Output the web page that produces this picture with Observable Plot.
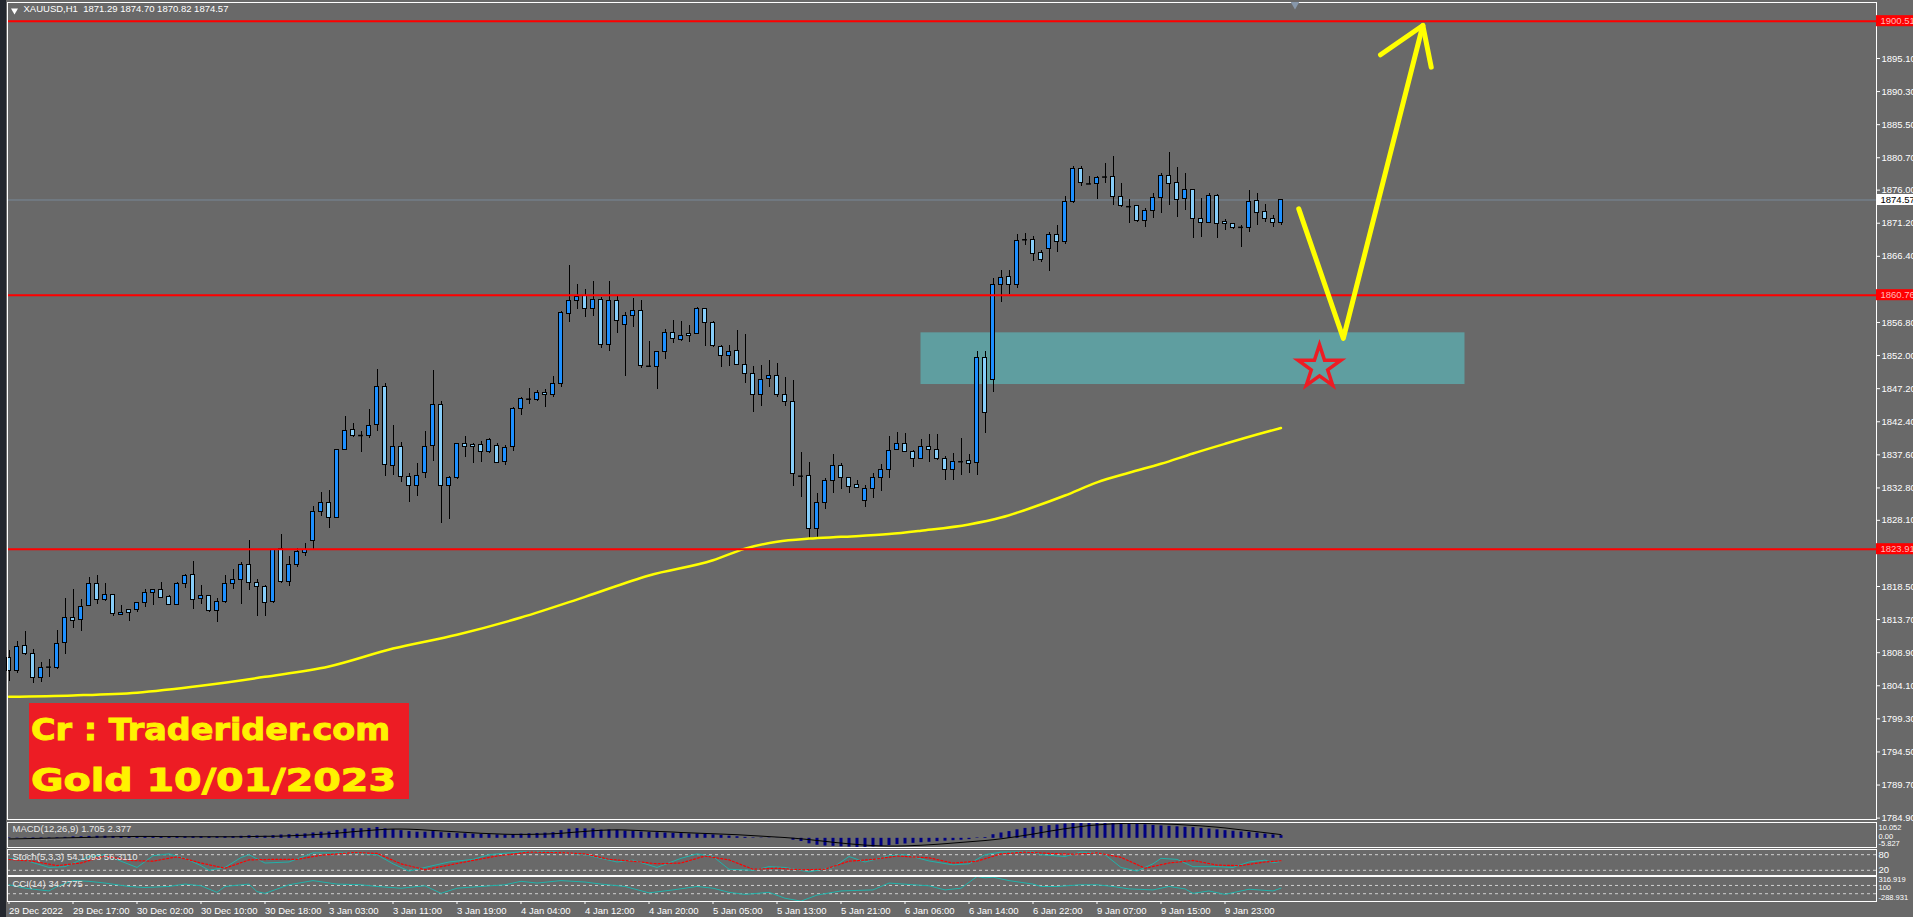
<!DOCTYPE html>
<html><head><meta charset="utf-8">
<script src="https://cdn.jsdelivr.net/npm/d3@7"></script>
<script src="https://cdn.jsdelivr.net/npm/@observablehq/plot@0.6"></script>
<style>
html,body{margin:0;padding:0;background:#696969;overflow:hidden;}
#wrap{position:relative;width:1913px;height:917px;background:#696969;}
#strip{position:absolute;left:0;top:0;width:6px;height:917px;background:#23272e;}
</style></head>
<body><div id="wrap"><div id="strip"></div></div>
<script>
// ---------------- DATA ----------------
const chartTitle = "XAUUSD,H1  1871.29 1874.70 1870.82 1874.57";
const timeTicks = [0,8,16,24,32,40,48,56,64,72,80,88,96,104,112,120,128,136,144,152];
const timeLabels = ["29 Dec 2022","29 Dec 17:00","30 Dec 02:00","30 Dec 10:00","30 Dec 18:00","3 Jan 03:00","3 Jan 11:00","3 Jan 19:00","4 Jan 04:00","4 Jan 12:00","4 Jan 20:00","5 Jan 05:00","5 Jan 13:00","5 Jan 21:00","6 Jan 06:00","6 Jan 14:00","6 Jan 22:00","9 Jan 07:00","9 Jan 15:00","9 Jan 23:00"];
const priceTicks = [1895.10,1890.30,1885.50,1880.70,1876.00,1871.20,1866.40,1856.80,1852.00,1847.20,1842.40,1837.60,1832.80,1828.10,1818.50,1813.70,1808.90,1804.10,1799.30,1794.50,1789.70,1784.90];

const opens = [
1808.19,1806.26,1809.87,1808.70,1805.24,1806.70,1806.67,1810.33,1813.90,1813.64,
1815.68,1818.88,1816.59,1817.20,1814.40,1815.07,1815.07,1816.08,1817.61,1817.97,
1816.95,1815.83,1818.88,1820.16,1816.70,1817.10,1814.97,1816.24,1818.88,1819.44,
1821.58,1819.04,1818.48,1816.24,1823.97,1819.14,1821.58,1823.37,1825.15,1829.32,
1830.59,1828.45,1838.33,1841.18,1840.37,1840.37,1841.94,1847.39,1836.04,1838.74,
1834.41,1833.09,1834.92,1838.89,1844.90,1833.15,1834.26,1839.19,1839.10,1839.05,
1837.99,1838.95,1836.54,1838.71,1844.27,1845.72,1845.58,1846.59,1846.30,1847.90,
1858.05,1859.94,1860.71,1858.78,1860.08,1853.56,1859.94,1856.46,1857.76,1858.49,
1850.41,1850.41,1852.45,1855.30,1854.28,1855.20,1855.15,1858.78,1856.75,1853.27,
1851.96,1852.69,1850.66,1849.35,1846.30,1848.58,1849.06,1846.30,1845.29,1834.55,
1834.50,1826.86,1830.64,1833.87,1836.00,1834.26,1833.25,1830.97,1832.67,1834.26,
1835.42,1838.33,1839.19,1838.04,1837.02,1838.76,1838.33,1837.02,1835.42,1836.50,
1836.68,1836.39,1851.67,1848.48,1862.26,1863.42,1862.26,1868.70,1868.79,1866.90,
1867.48,1869.52,1868.45,1874.25,1879.09,1876.96,1876.91,1877.80,1877.93,1875.03,
1873.70,1873.63,1871.55,1873.00,1874.83,1878.12,1877.06,1874.74,1876.04,1871.84,
1871.26,1875.17,1871.45,1871.11,1870.50,1870.53,1874.45,1872.85,1871.84,1871.29];
const highs = [
1809.21,1810.49,1811.91,1809.31,1807.53,1807.84,1812.11,1816.70,1818.12,1816.59,
1819.75,1820.16,1818.88,1817.35,1815.68,1815.17,1816.19,1818.12,1818.10,1819.14,
1817.20,1819.14,1820.26,1822.19,1818.63,1817.20,1816.70,1820.16,1821.02,1821.94,
1825.15,1819.54,1818.70,1823.90,1826.01,1822.80,1824.08,1824.74,1830.08,1832.12,
1832.48,1838.40,1843.17,1842.15,1841.03,1844.18,1849.93,1847.90,1841.79,1839.40,
1834.92,1836.34,1841.03,1849.78,1845.40,1834.40,1839.30,1840.26,1839.20,1839.53,
1839.90,1839.19,1838.95,1844.51,1845.96,1847.17,1846.93,1847.03,1848.96,1858.44,
1865.07,1862.31,1861.54,1862.75,1860.47,1862.75,1860.62,1858.30,1860.23,1859.99,
1854.04,1852.59,1855.78,1857.09,1856.94,1856.36,1859.02,1858.88,1856.94,1853.46,
1853.41,1855.64,1855.06,1850.41,1850.56,1851.28,1850.90,1848.87,1848.38,1837.94,
1836.49,1832.04,1834.12,1837.60,1836.29,1834.36,1833.88,1833.15,1834.84,1836.20,
1840.26,1840.79,1840.65,1838.23,1839.77,1840.50,1840.50,1837.36,1837.84,1839.92,
1837.65,1852.59,1852.59,1863.13,1864.34,1864.34,1869.52,1869.66,1869.27,1867.24,
1869.90,1870.87,1875.13,1879.48,1879.48,1877.98,1877.98,1879.82,1880.88,1877.01,
1874.60,1873.77,1873.29,1875.56,1878.36,1881.41,1879.33,1878.46,1876.10,1874.74,
1875.56,1875.30,1871.69,1871.20,1870.82,1875.90,1875.56,1873.87,1872.32,1874.70];
const lows = [
1804.73,1805.90,1808.50,1804.38,1804.63,1805.24,1806.51,1808.70,1812.42,1811.91,
1815.60,1815.83,1816.34,1814.15,1814.30,1813.44,1814.66,1815.47,1815.73,1816.70,
1815.68,1815.70,1818.22,1815.17,1815.93,1814.80,1813.29,1816.10,1818.12,1815.93,
1817.87,1814.15,1814.15,1816.10,1818.90,1818.53,1821.28,1822.80,1823.82,1828.71,
1826.88,1828.30,1838.20,1840.16,1837.87,1839.91,1841.03,1834.51,1834.66,1833.65,
1830.75,1831.61,1834.16,1836.70,1827.59,1828.17,1833.97,1837.26,1836.39,1836.54,
1837.75,1836.39,1836.05,1838.13,1843.31,1844.90,1845.38,1844.51,1845.87,1847.42,
1856.85,1858.68,1857.57,1857.72,1853.07,1852.59,1855.25,1849.01,1856.02,1850.08,
1850.20,1847.03,1851.38,1853.70,1854.04,1853.94,1855.06,1853.36,1853.22,1850.32,
1850.46,1850.56,1847.90,1843.79,1844.66,1847.42,1845.96,1844.66,1833.05,1831.36,
1825.51,1825.66,1829.62,1832.04,1832.52,1831.94,1832.67,1830.01,1831.31,1832.33,
1834.10,1838.23,1837.90,1835.71,1836.90,1836.54,1836.78,1833.88,1833.88,1834.60,
1834.84,1834.60,1840.65,1846.69,1859.75,1860.86,1861.68,1867.97,1865.70,1865.55,
1864.24,1867.00,1868.10,1874.11,1876.58,1876.82,1874.64,1876.91,1873.77,1873.53,
1871.21,1871.35,1870.53,1871.84,1872.66,1873.77,1872.08,1873.05,1868.94,1869.18,
1871.10,1869.03,1870.14,1870.24,1867.73,1869.90,1870.87,1871.35,1870.63,1870.82];
const closes = [
1806.26,1809.72,1808.70,1805.24,1806.67,1806.80,1810.23,1813.90,1813.54,1815.47,
1818.88,1816.59,1817.20,1814.56,1814.66,1814.66,1816.08,1817.51,1817.97,1816.85,
1815.83,1818.88,1820.05,1816.59,1817.10,1814.97,1816.24,1818.88,1819.44,1821.58,
1819.04,1818.43,1816.08,1823.82,1819.14,1821.58,1823.57,1823.82,1829.32,1830.59,
1828.45,1838.33,1841.03,1840.37,1840.40,1841.79,1847.39,1836.19,1838.74,1834.41,
1833.09,1834.51,1838.74,1844.84,1833.15,1834.26,1839.19,1838.71,1838.71,1837.99,
1839.77,1836.44,1838.61,1844.27,1845.72,1845.67,1846.59,1846.30,1847.90,1858.20,
1859.94,1860.57,1858.78,1860.08,1853.56,1859.94,1857.04,1857.76,1858.49,1850.51,
1850.45,1852.45,1855.30,1854.43,1854.86,1854.86,1858.78,1856.75,1853.32,1851.96,
1852.54,1850.66,1849.35,1846.30,1848.48,1849.06,1846.30,1845.29,1834.75,1834.50,
1826.86,1830.64,1833.78,1835.91,1834.26,1833.00,1832.81,1832.67,1834.26,1835.42,
1838.13,1839.19,1837.99,1837.02,1838.76,1838.37,1837.02,1835.42,1836.54,1836.60,
1836.29,1851.67,1843.69,1862.26,1863.28,1862.26,1868.65,1868.80,1866.76,1865.89,
1869.52,1868.45,1874.35,1879.09,1877.06,1876.90,1877.78,1877.90,1875.03,1873.77,
1873.60,1871.55,1873.00,1874.83,1878.12,1876.91,1874.59,1876.04,1871.79,1871.26,
1875.17,1871.11,1871.11,1870.53,1870.60,1874.30,1872.71,1871.84,1871.26,1874.57];

// moving average (yellow), read at sample bars
const maBars   = [0,8,16,24,32,40,48,56,64,72,80,88,92,96,100,104,110,114,120,124,128,132,136,140,144,148,152,156,159];
const maValues = [1802.5,1802.7,1803.1,1804.1,1805.4,1806.9,1809.5,1811.5,1814.0,1817.0,1820.1,1822.3,1824.0,1825.0,1825.45,1825.7,1826.1,1826.6,1827.5,1828.5,1830.0,1831.7,1833.6,1835.0,1836.3,1837.8,1839.2,1840.55,1841.5];

// drawn objects
const levelPrices = [1900.51, 1860.76, 1823.91];
const lastPrice = 1874.57;
const zoneBars = [114, 182];
const zonePrices = [1847.8, 1855.3];
const arrowShaft = [[161.22,1873.29],[166.79,1854.48],[176.73,1899.89]];
const arrowHead  = [[171.44,1895.64],[176.73,1899.89],[177.78,1893.84]];
const starPoint = [163.81, 1850.31];
const shiftMarker = [160.75];
const boxLines = ["Cr : Traderider.com", "Gold 10/01/2023"];

// MACD (12,26,9)
const macdTitle = "MACD(12,26,9) 1.705 2.377";
const macdMain = [
0.3,0.2,0.2,0.3,0.3,0.3,0.4,0.6, 0.9,1.0,1.2,1.3,1.3,1.2,1.1,1.1,
1.1,1.1,1.1,1.0,0.9,1.0,1.0,1.0, 1.0,0.9,0.9,1.0,1.1,1.3,1.6,1.5,
1.3,1.7,2.1,2.3,2.6,2.8,3.4,3.9, 4.0,5.0,5.8,6.1,6.1,6.3,6.9,6.0,
5.5,4.9,4.3,3.9,3.9,4.3,3.6,3.2, 3.0,2.9,2.7,2.5,2.4,2.2,2.1,2.4,
2.7,2.9,3.1,3.3,3.6,4.9,5.8,6.2, 6.0,6.0,5.2,5.3,5.0,4.6,4.4,4.0,
3.8,3.6,3.4,3.2,3.0,2.8,2.7,2.5, 2.2,1.8,1.4,1.0,0.6,0.3,0.2,0.2,
0.1,-0.1,-1.2,-2.0,-3.5,-4.4,-4.9,-5.1, -5.4,-5.6,-5.8,-5.8,-5.5,-5.2,-4.6,-4.0,
-3.6,-3.2,-2.8,-2.5,-2.1,-1.8,-1.5,-1.2, -0.8,0.3,0.5,2.3,3.4,4.3,5.4,6.3,
7.0,7.5,8.1,8.5,9.1,9.8,10.0,9.9, 9.9,9.8,9.7,9.5,9.2,9.0,8.6,8.2,
7.9,7.6,7.3,7.0,6.8,6.3,5.9,5.4, 4.9,4.5,4.0,3.8,3.3,2.7,2.2,1.705];
const macdSignal = [
-0.4,-0.3,-0.2,-0.1,0.0,0.1,0.2,0.3, 0.4,0.5,0.6,0.8,0.9,1.0,1.1,1.1,
1.2,1.2,1.2,1.1,1.1,1.1,1.0,1.0, 1.0,1.0,1.0,1.0,1.0,1.0,1.1,1.2,
1.3,1.3,1.4,1.6,1.8,2.0,2.3,2.6, 2.9,3.3,3.7,4.2,4.6,5.0,5.4,5.7,
5.9,5.9,5.8,5.6,5.3,5.0,4.7,4.4, 4.1,3.8,3.5,3.2,3.0,2.8,2.6,2.5,
2.5,2.5,2.6,2.7,2.9,3.2,3.6,4.0, 4.4,4.8,5.1,5.3,5.4,5.3,5.1,4.9,
4.6,4.4,4.2,4.0,3.7,3.5,3.3,3.1, 2.9,2.7,2.5,2.3,2.0,1.7,1.4,1.1,
0.8,0.5,0.1,-0.3,-0.8,-1.4,-1.9,-2.5, -3.0,-3.5,-3.9,-4.3,-4.6,-4.8,-4.9,-4.9,
-4.8,-4.6,-4.4,-4.1,-3.8,-3.4,-3.0,-2.6, -2.2,-1.8,-1.4,-0.9,-0.3,0.4,1.1,1.9,
2.7,3.6,4.5,5.3,6.1,6.8,7.5,8.1, 8.5,8.9,9.2,9.4,9.5,9.5,9.4,9.3,
9.2,9.0,8.8,8.5,8.2,7.9,7.5,7.1, 6.6,6.0,5.4,4.8,4.2,3.6,3.0,2.377];
const macdRange = [-5.827, 10.052];

// Stochastic (5,3,3)
const stochTitle = "Stoch(5,3,3) 54.1093 56.3110";
const stochLevels = [20, 80];
const stochK = [[0,66],[2,59],[5,31],[7,34],[10,73],[12,80],[14,55],[16,31],[18,76],[20,83],[22,66],[24,38],[25,20],[27,31],[29,69],[30,80],[32,48],[35,52],[38,87],[43,87],[46,80],[48,45],[50,17],[52,31],[55,52],[58,62],[60,80],[64,91],[68,91],[72,80],[74,66],[76,52],[78,59],[81,31],[84,66],[86,83],[88,73],[90,24],[93,20],[95,34],[97,31],[100,14],[103,31],[105,73],[107,52],[110,76],[112,80],[115,56],[118,41],[120,45],[122,80],[124,90],[128,91],[129,80],[132,73],[134,90],[136,87],[137,80],[139,31],[141,17],[143,45],[144,66],[146,62],[148,34],[151,34],[153,31],[155,52],[157,59],[158,49],[159,54.11]];
const stochD = [[0,62],[3,55],[6,38],[9,48],[12,75],[15,58],[18,55],[21,72],[24,48],[27,28],[30,60],[33,62],[36,62],[39,78],[43,88],[46,85],[49,45],[52,22],[55,40],[58,58],[61,75],[65,90],[69,88],[72,83],[75,62],[78,55],[81,45],[84,48],[87,75],[90,60],[93,24],[96,28],[99,22],[102,24],[105,55],[108,62],[111,75],[115,68],[118,48],[121,55],[124,83],[127,90],[130,85],[133,82],[136,87],[139,70],[142,28],[145,48],[148,58],[151,40],[154,38],[157,52],[159,56.31]];

// CCI (14)
const cciTitle = "CCI(14) 34.7775";
const cciLevels = [100, -100];
const cciRange = [-288.931, 316.919];
const cci = [[0,117],[2,33],[5,-33],[6,75],[8,217],[10,200],[12,158],[15,75],[17,50],[20,75],[22,133],[24,92],[26,-67],[27,75],[30,133],[31,-50],[32,-92],[35,117],[38,217],[41,133],[44,117],[46,75],[49,33],[52,92],[54,-92],[56,33],[59,75],[62,117],[64,200],[66,158],[69,217],[72,183],[74,133],[77,75],[80,-80],[83,-8],[86,75],[88,33],[90,-67],[92,-117],[95,-67],[97,-210],[99,-280],[101,-133],[104,-33],[108,-8],[110,158],[113,117],[115,92],[117,-8],[119,33],[121,316.9],[122,283],[123,300],[125,217],[128,133],[129,75],[131,75],[134,117],[136,117],[138,75],[140,17],[143,-8],[145,75],[147,17],[148,-92],[150,-33],[152,-117],[155,8],[158,-33],[159,34.78]];

// ---------------- RENDER ----------------
const W = 1913;
const xDomain = [-0.1875, 233.4375];
const labelBoxW = 4.7; // bar units covering the price-label column
const FONT = "'Liberation Sans', Arial, sans-serif";
const wrap = document.getElementById("wrap");
const styleAt = top => `position:absolute;left:0;top:${top}px;background:transparent;overflow:visible;color:#ffffff;font-family:${FONT};font-size:9.5px;max-width:none;`;

const candles = opens.map((o, i) => ({i, o, h: highs[i], l: lows[i], c: closes[i]}));
const bodies = candles.filter(d => Math.abs(d.c - d.o) >= 0.12);
const dojis = candles.filter(d => Math.abs(d.c - d.o) < 0.12);
const maData = maBars.map((b, k) => ({b, p: maValues[k]}));
const arrowData = [
  ...arrowShaft.map(([b, p]) => ({seg: "shaft", b, p})),
  ...arrowHead.map(([b, p]) => ({seg: "head", b, p}))
];
const zone = [{b1: zoneBars[0], b2: zoneBars[1], p1: zonePrices[0], p2: zonePrices[1]}];
const star = [{b: starPoint[0], p: starPoint[1]}];
const rightEdge = () => xDomain[1];
const rightEdge2 = () => xDomain[1] + labelBoxW;

const main = Plot.plot({
  width: W, height: 820,
  marginTop: 2, marginBottom: 1, marginLeft: 7, marginRight: 37,
  style: styleAt(0),
  x: {domain: xDomain, axis: null},
  y: {domain: [1784.70, 1903.22], axis: null},
  marks: [
    Plot.rect(zone, {x1: "b1", x2: "b2", y1: "p1", y2: "p2", fill: "#5f9ea0"}),
    Plot.ruleY([lastPrice], {stroke: "#778899", strokeWidth: 1}),
    Plot.ruleX(candles, {x: "i", y1: "l", y2: "h", stroke: "#000", strokeWidth: 1, shapeRendering: "crispEdges"}),
    Plot.rect(bodies, {
      x1: d => d.i - 0.28, x2: d => d.i + 0.28,
      y1: d => Math.min(d.o, d.c), y2: d => Math.max(d.o, d.c),
      fill: d => d.c > d.o ? "#1e90ff" : "#87cefa",
      stroke: "#000", strokeWidth: 1, shapeRendering: "crispEdges"
    }),
    Plot.ruleY(dojis, {y: "c", x1: d => d.i - 0.3, x2: d => d.i + 0.3, stroke: "#000", strokeWidth: 1.5}),
    Plot.line(maData, {x: "b", y: "p", stroke: "#ffff00", strokeWidth: 2.5, curve: "monotone-x"}),
    Plot.ruleY(levelPrices, {stroke: "#ff0000", strokeWidth: 2}),
    Plot.line(arrowData, {x: "b", y: "p", z: "seg", stroke: "#ffff00", strokeWidth: 5, strokeLinecap: "round", strokeLinejoin: "round"}),
    Plot.dot(star, {x: "b", y: "p", symbol: "star", r: 13.5, stroke: "#ed1c24", strokeWidth: 3.5, fill: "none"}),
    Plot.frame({stroke: "#ffffff", shapeRendering: "crispEdges"}),
    Plot.axisY(priceTicks, {anchor: "right", tickSize: 3, tickPadding: 2, tickFormat: d => d.toFixed(2), fontSize: 9.5}),
    Plot.rect(levelPrices, {x1: rightEdge, x2: rightEdge2, y1: d => d - 0.8, y2: d => d + 0.8, fill: "#ff0000"}),
    Plot.text(levelPrices, {x: rightEdge, y: d => d, dx: 4, text: d => d.toFixed(2), textAnchor: "start", fill: "#ffb8b8", fontSize: 9.5}),
    Plot.rect([lastPrice], {x1: rightEdge, x2: rightEdge2, y1: d => d - 0.8, y2: d => d + 0.8, fill: "#ffffff"}),
    Plot.text([lastPrice], {x: rightEdge, y: d => d, dx: 4, text: d => d.toFixed(2), textAnchor: "start", fill: "#000000", fontSize: 9.5}),
    Plot.dot(shiftMarker, {x: d => d, frameAnchor: "top", dy: 2, symbol: "triangle", rotate: 180, r: 3.2, fill: "#8797aa"}),
    Plot.dot([chartTitle], {frameAnchor: "top-left", dx: 7, dy: 8, symbol: "triangle", rotate: 180, r: 2.6, fill: "#ffffff"}),
    Plot.text([chartTitle], {frameAnchor: "top-left", dx: 16, dy: 3, lineAnchor: "top", textAnchor: "start", text: d => d, fill: "#ffffff", fontSize: 9.5})
  ]
});
wrap.appendChild(main);

// logo box (screen-anchored label)
{
  const svg = d3.select(main);
  const g = svg.append("g")
    .attr("font-family", "'DejaVu Sans', sans-serif")
    .attr("font-weight", "bold")
    .attr("text-anchor", "start");
  g.append("rect").attr("x", 29).attr("y", 703).attr("width", 380).attr("height", 96).attr("fill", "#ed1c24");
  g.append("text").attr("x", 31).attr("y", 740).attr("font-size", 30).attr("fill", "#fff200")
    .attr("text-anchor", "start")
    .attr("stroke", "#fff200").attr("stroke-width", 0.9)
    .attr("textLength", 359).attr("lengthAdjust", "spacingAndGlyphs").text(boxLines[0]);
  g.append("text").attr("x", 31).attr("y", 791).attr("font-size", 32).attr("fill", "#fff200")
    .attr("text-anchor", "start")
    .attr("stroke", "#fff200").attr("stroke-width", 0.9)
    .attr("textLength", 365).attr("lengthAdjust", "spacingAndGlyphs").text(boxLines[1]);
}

const smallLabel = {textAnchor: "start", fill: "#ffffff", fontSize: 7.5};

// MACD panel
const macdData = macdMain.map((v, i) => ({i, v, s: macdSignal[i]}));
const macd = Plot.plot({
  width: W, height: 27, marginTop: 1, marginBottom: 1, marginLeft: 7, marginRight: 37,
  style: styleAt(821),
  x: {domain: xDomain, axis: null},
  y: {domain: macdRange, axis: null},
  marks: [
    Plot.ruleX(macdData, {x: "i", y1: () => 0, y2: "v", stroke: "#000080", strokeWidth: 3}),
    Plot.line(macdData, {x: "i", y: "s", stroke: "#000000", strokeWidth: 1}),
    Plot.frame({stroke: "#ffffff", shapeRendering: "crispEdges"}),
    Plot.text([macdTitle], {frameAnchor: "top-left", dx: 5, dy: 3, lineAnchor: "top", textAnchor: "start", text: d => d, fill: "#e8e8e8", fontSize: 9.5}),
    Plot.text([macdRange[1]], {x: rightEdge, y: d => d, dx: 2, dy: 5, text: d => d.toFixed(3), ...smallLabel}),
    Plot.text([0], {x: rightEdge, y: d => d, dx: 2, dy: -1.5, text: d => d.toFixed(2), ...smallLabel}),
    Plot.text([macdRange[0]], {x: rightEdge, y: d => d, dx: 2, dy: -3.5, text: d => d.toFixed(3), ...smallLabel})
  ]
});
wrap.appendChild(macd);

// Stochastic panel
const stoch = Plot.plot({
  width: W, height: 28, marginTop: 1, marginBottom: 1, marginLeft: 7, marginRight: 37,
  style: styleAt(848),
  x: {domain: xDomain, axis: null},
  y: {domain: [0, 100], axis: null},
  marks: [
    Plot.ruleY(stochLevels, {stroke: "#d0d0d0", strokeDasharray: "3,3", strokeWidth: 1}),
    Plot.line(stochK, {x: d => d[0], y: d => d[1], stroke: "#20b2aa", strokeWidth: 1}),
    Plot.line(stochD, {x: d => d[0], y: d => d[1], stroke: "#ff0000", strokeWidth: 1.2, strokeDasharray: "2,2"}),
    Plot.frame({stroke: "#ffffff", shapeRendering: "crispEdges"}),
    Plot.text([stochTitle], {frameAnchor: "top-left", dx: 5, dy: 4, lineAnchor: "top", textAnchor: "start", text: d => d, fill: "#e8e8e8", fontSize: 9.5}),
    Plot.text(stochLevels, {x: rightEdge, y: d => d, dx: 2, text: d => String(d), textAnchor: "start", fill: "#fff", fontSize: 9.5})
  ]
});
wrap.appendChild(stoch);

// CCI panel + time axis
const cciPanel = Plot.plot({
  width: W, height: 42, marginTop: 1, marginBottom: 16, marginLeft: 7, marginRight: 37,
  style: styleAt(875),
  x: {domain: xDomain, axis: null},
  y: {domain: cciRange, axis: null},
  marks: [
    Plot.ruleY(cciLevels, {stroke: "#d0d0d0", strokeDasharray: "3,3", strokeWidth: 1}),
    Plot.line(cci, {x: d => d[0], y: d => d[1], stroke: "#20b2aa", strokeWidth: 1}),
    Plot.frame({stroke: "#ffffff", shapeRendering: "crispEdges"}),
    Plot.text([cciTitle], {frameAnchor: "top-left", dx: 5, dy: 4, lineAnchor: "top", textAnchor: "start", text: d => d, fill: "#e8e8e8", fontSize: 9.5}),
    Plot.text([cciRange[1]], {x: rightEdge, y: d => d, dx: 2, dy: 3.5, text: d => d.toFixed(3), ...smallLabel}),
    Plot.text([cciLevels[0]], {x: rightEdge, y: d => d, dx: 2, dy: 2.5, text: d => String(d), ...smallLabel}),
    Plot.text([cciRange[0]], {x: rightEdge, y: d => d, dx: 2, dy: -3.5, text: d => d.toFixed(3), ...smallLabel}),
    Plot.axisX(timeTicks, {anchor: "bottom", tickSize: 3, tickPadding: 3, textAnchor: "start",
      tickFormat: d => timeLabels[timeTicks.indexOf(d)], fontSize: 9.5})
  ]
});
wrap.appendChild(cciPanel);
</script>
</body></html>
